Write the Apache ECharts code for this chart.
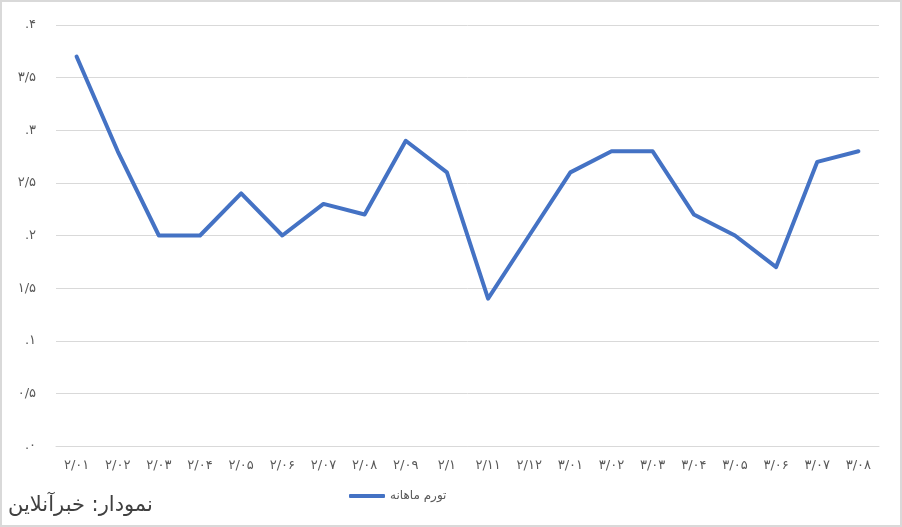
<!DOCTYPE html>
<html>
<head>
<meta charset="utf-8">
<script src="https://cdn.jsdelivr.net/npm/echarts@6/dist/echarts.min.js"></script>
<style>
html,body{margin:0;padding:0;background:#fff;}
#c{width:902px;height:527px;}
</style>
</head>
<body>
<div id="c"></div>
<script>
const categories = ['۲/۰۱','۲/۰۲','۲/۰۳','۲/۰۴','۲/۰۵','۲/۰۶','۲/۰۷','۲/۰۸','۲/۰۹','۲/۱','۲/۱۱','۲/۱۲','۳/۰۱','۳/۰۲','۳/۰۳','۳/۰۴','۳/۰۵','۳/۰۶','۳/۰۷','۳/۰۸'];
const monthlyInflation = [3.7, 2.8, 2.0, 2.0, 2.4, 2.0, 2.3, 2.2, 2.9, 2.6, 1.4, 2.0, 2.6, 2.8, 2.8, 2.2, 2.0, 1.7, 2.7, 2.8];
const yTickLabels = ['.۰','۰/۵','.۱','۱/۵','.۲','۲/۵','.۳','۳/۵','.۴'];
const seriesName = 'تورم ماهانه';
const sourceText = 'نمودار: خبرآنلاین';

const chart = echarts.init(document.getElementById('c'));
chart.setOption({
  animation: false,
  backgroundColor: '#fff',
  textStyle: { fontFamily: 'DejaVu Sans' },
  grid: { left: 56, right: 23, top: 25, bottom: 81 },
  xAxis: {
    type: 'category',
    data: categories,
    boundaryGap: true,
    axisLine: { show: true, lineStyle: { color: '#d9d9d9', width: 1 } },
    axisTick: { show: false },
    axisLabel: { color: '#595959', fontSize: 13, margin: 13, interval: 0, fontFamily: 'DejaVu Sans' }
  },
  yAxis: {
    type: 'value',
    min: 0, max: 4, interval: 0.5,
    axisLine: { show: false },
    axisTick: { show: false },
    splitLine: { lineStyle: { color: '#d9d9d9', width: 1 } },
    axisLabel: {
      color: '#595959', fontSize: 13, margin: 20, fontFamily: 'DejaVu Sans',
      formatter: function (v) { return yTickLabels[Math.round(v / 0.5)]; }
    }
  },
  legend: {
    data: [seriesName],
    left: 344, top: 485,
    icon: 'roundRect',
    itemWidth: 36, itemHeight: 4, itemGap: 6,
    textStyle: { color: '#595959', fontSize: 12, fontFamily: 'DejaVu Sans' }
  },
  series: [{
    name: seriesName,
    type: 'line',
    data: monthlyInflation,
    symbol: 'none',
    lineStyle: { color: '#4472C4', width: 4, cap: 'round', join: 'round' },
    itemStyle: { color: '#4472C4' }
  }],
  graphic: [
    { type: 'rect', shape: { x: 1, y: 1, width: 900, height: 525 }, style: { fill: 'none', stroke: '#d9d9d9', lineWidth: 2 }, silent: true },
    { type: 'text', left: 8, top: 495, style: { text: sourceText, fill: '#404040', fontSize: 21, fontFamily: 'DejaVu Sans' } }
  ]
});
</script>
</body>
</html>
